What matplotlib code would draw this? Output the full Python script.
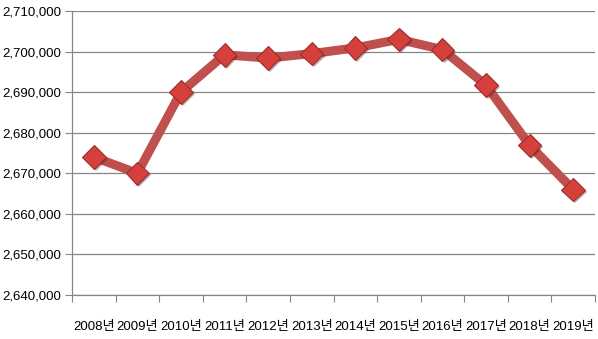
import matplotlib.pyplot as plt
import matplotlib.patheffects as pe
from matplotlib.ticker import FuncFormatter

plt.rcParams['font.family'] = ['Liberation Sans', 'Noto Sans CJK KR']

years = ['2008년', '2009년', '2010년', '2011년', '2012년', '2013년',
         '2014년', '2015년', '2016년', '2017년', '2018년', '2019년']
values = [2674000, 2670000, 2690000, 2699200, 2698400, 2699500,
          2700900, 2703000, 2700500, 2691700, 2676900, 2666000]

fig = plt.figure(figsize=(5.98, 3.39), dpi=100)
ax = fig.add_axes([72/598, 44/339, 523/598, 284/339])

x = [i + 0.5 for i in range(len(years))]
shadow = [pe.SimplePatchShadow(offset=(1.5, -1.5), alpha=0.35), pe.Normal()]
ax.plot(x, values, color='#C0504D', linewidth=6.5, solid_joinstyle='round',
        zorder=3)
ax.plot(x, values, linestyle='none', marker='D', markersize=12,
        markerfacecolor='#D5403C', markeredgecolor='#9B2D2A', markeredgewidth=0.8,
        zorder=4, path_effects=shadow)

ax.set_xlim(0, len(years))
ax.set_ylim(2640000, 2710000)
ax.set_yticks(range(2640000, 2710001, 10000))
ax.yaxis.set_major_formatter(FuncFormatter(lambda v, p: f'{int(v):,}'))
ax.set_xticks(range(len(years) + 1))
ax.set_xticklabels([])
ax.set_xticks(x, minor=True)
ax.set_xticklabels(years, minor=True)
ax.tick_params(axis='x', which='minor', length=0, pad=19, labelsize=9.5)
ax.tick_params(axis='x', which='major', length=5, color='#868686')
ax.tick_params(axis='y', length=5, color='#868686', labelsize=9.5, pad=3)

ax.grid(axis='y', color='#868686', linewidth=0.9)
ax.set_axisbelow(True)
for s in ['top', 'right']:
    ax.spines[s].set_visible(False)
for s in ['left', 'bottom']:
    ax.spines[s].set_color('#868686')
    ax.spines[s].set_linewidth(0.9)

fig.savefig('out.png', dpi=100)
